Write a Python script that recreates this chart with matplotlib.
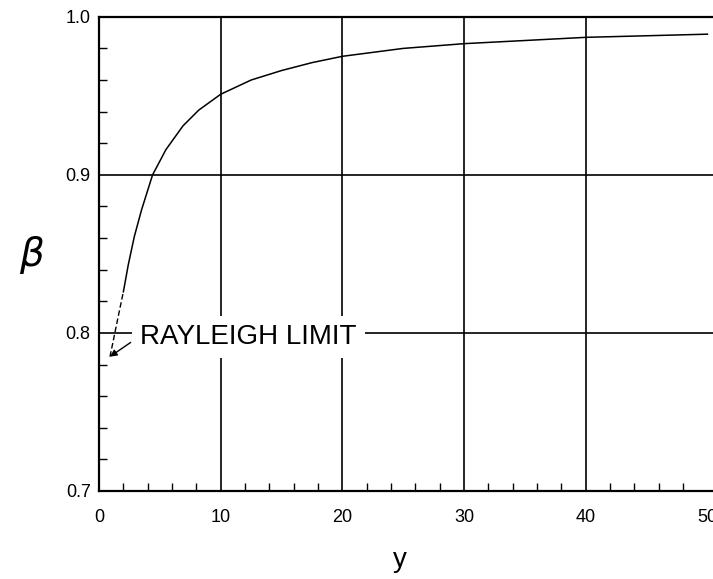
import matplotlib
matplotlib.use('Agg')
import matplotlib.pyplot as plt
from matplotlib.ticker import MultipleLocator
import numpy as np

plt.rcParams['font.family'] = ['Liberation Sans', 'DejaVu Sans']

# curve
y_vals = [0.9, 1.3, 1.7, 2.0, 2.4, 2.9, 3.5, 4.4, 5.5, 6.9, 8.2, 10, 12.5, 15, 17.5,
          20, 25, 30, 35, 40, 45, 50]
beta = [0.785, 0.800, 0.815, 0.826, 0.843, 0.861, 0.878, 0.900, 0.916, 0.931, 0.941,
        0.951, 0.960, 0.966, 0.971, 0.975, 0.980, 0.983, 0.985, 0.987, 0.988, 0.989]
x_ticks = [0, 10, 20, 30, 40, 50]
y_ticks = [0.7, 0.8, 0.9, 1.0]
grid_x = [10, 20, 30, 40]
grid_y = [0.8, 0.9]

fig = plt.figure(figsize=(7.13, 5.79), dpi=100)
ax = fig.add_axes([0.1389, 0.152, 0.861, 0.819])

for gx in grid_x:
    ax.axvline(gx, color='black', lw=1.2, zorder=1)
for gy in grid_y:
    ax.axhline(gy, color='black', lw=1.2, zorder=1)

yv = np.array(y_vals)
bv = np.array(beta)
solid = yv >= 2.0
ax.plot(yv[solid], bv[solid], color='black', lw=1.1, zorder=2)
ax.plot(yv[:4], bv[:4], color='black', lw=1.0, ls=(0, (4, 2)), zorder=2)

ax.text(12.3, 0.7975, 'RAYLEIGH LIMIT', fontsize=20, ha='center', va='center',
        zorder=3, bbox=dict(facecolor='white', edgecolor='none', pad=6))
ax.annotate('', xy=(y_vals[0], beta[0]), xytext=(2.6, 0.794),
            arrowprops=dict(arrowstyle='-|>', color='black', lw=1.0,
                            mutation_scale=10, shrinkA=0, shrinkB=0), zorder=3)

ax.set_xlim(0, 50.45)
ax.set_ylim(0.7, 1.0)
ax.set_xticks(x_ticks)
ax.set_yticks(y_ticks)
ax.set_yticklabels(['0.7', '0.8', '0.9', '1.0'])
ax.xaxis.set_minor_locator(MultipleLocator(2))
ax.yaxis.set_minor_locator(MultipleLocator(0.02))
ax.tick_params(which='major', length=0, labelsize=13)
ax.tick_params(axis='x', which='major', pad=13)
ax.tick_params(axis='y', which='major', pad=6)
ax.tick_params(which='minor', direction='in', length=6, width=1.0)
ax.tick_params(top=False, right=False)

for s in ['left', 'bottom', 'top']:
    ax.spines[s].set_linewidth(1.6)
ax.spines['right'].set_visible(False)

fig.text(32 / 713, 1 - 255 / 579, r'$\beta$', fontsize=28, ha='center', va='center')
fig.text(400 / 713, 1 - 560 / 579, 'y', fontsize=20, ha='center', va='center')

fig.savefig('out.png', dpi=100)
